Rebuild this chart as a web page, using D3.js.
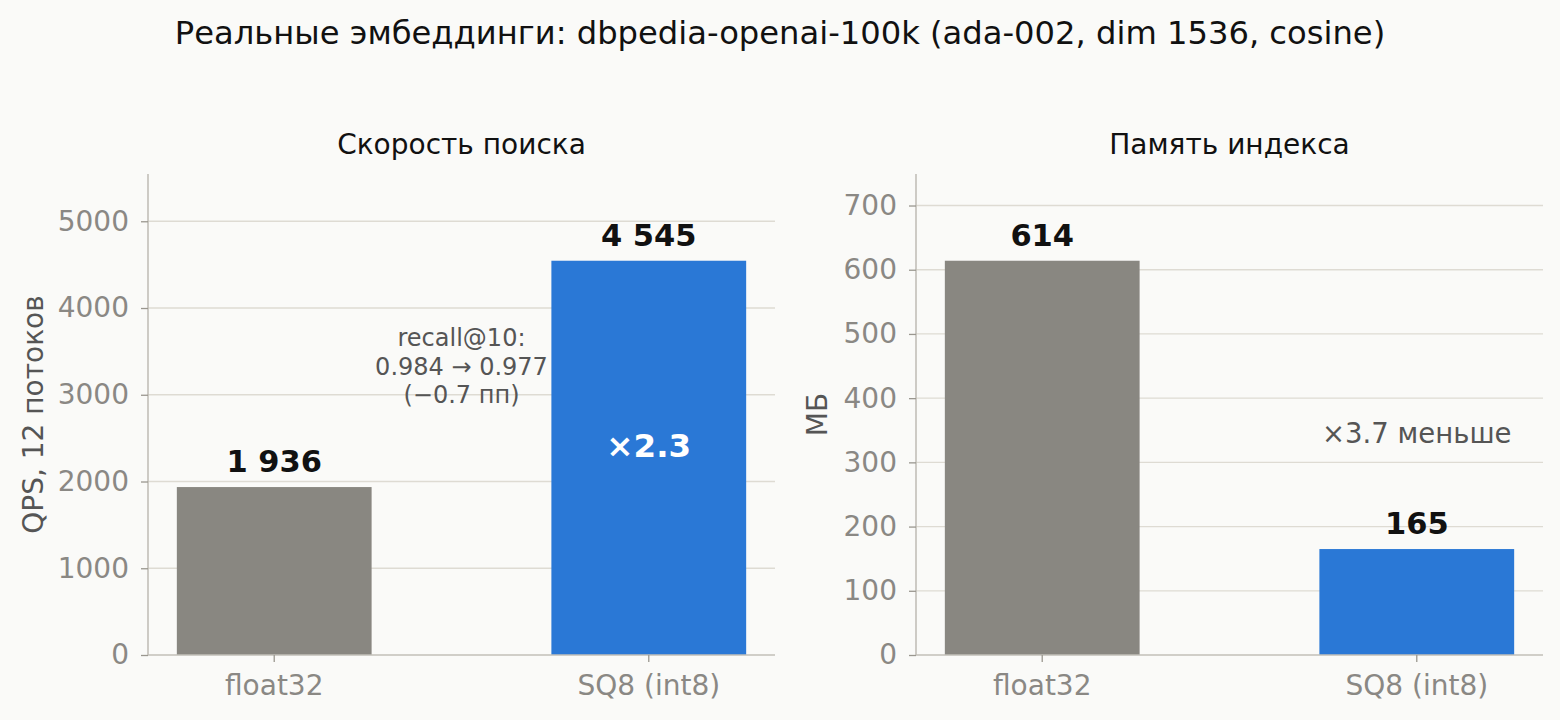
<!DOCTYPE html>
<html>
<head>
<meta charset="utf-8">
<script src="https://cdn.jsdelivr.net/npm/d3@7"></script>
<style>
  body { margin: 0; background: #fafaf8; }
  svg { display: block; font-family: "DejaVu Sans", sans-serif; }
</style>
</head>
<body>
<div id="chart"></div>
<script>
const categories = ["float32", "SQ8 (int8)"];
const qpsValues = [1936, 4545];
const memValues = [614, 165];
const qpsTicks = [0, 1000, 2000, 3000, 4000, 5000];
const memTicks = [0, 100, 200, 300, 400, 500, 600, 700];
const barColors = ["#898781", "#2a78d6"];
const recallNote = ["recall@10:", "0.984 → 0.977", "(−0.7 пп)"];

const width = 1560, height = 720;
const baseY = 655, topY = 174;

const svg = d3.select("#chart").append("svg")
    .attr("width", width)
    .attr("height", height);

svg.append("rect").attr("width", width).attr("height", height).attr("fill", "#fafaf8");

svg.append("text")
    .attr("x", 780).attr("y", 44)
    .attr("text-anchor", "middle")
    .style("font-size", "32.2px")
    .style("fill", "#111")
    .text("Реальные эмбеддинги: dbpedia-openai-100k (ada-002, dim 1536, cosine)");

const fmt = v => d3.format(",")(v).replace(/,/g, " ");

function panel(opts) {
    const x = d3.scaleBand()
        .domain(categories)
        .range([opts.left, opts.right])
        .paddingInner(0.48)
        .paddingOuter(0.077);
    const y = d3.scaleLinear()
        .domain([0, d3.max(opts.values) * 1.22])
        .range([baseY, topY]);

    const g = svg.append("g");

    // grid
    g.selectAll(".grid").data(opts.ticks.filter(t => t > 0))
        .enter().append("line")
        .attr("x1", opts.left).attr("x2", opts.right)
        .attr("y1", d => y(d)).attr("y2", d => y(d))
        .attr("stroke", "#dedbd3").attr("stroke-width", 1.3);

    // bars
    g.selectAll(".bar").data(opts.values)
        .enter().append("rect")
        .attr("x", (d, i) => x(categories[i]))
        .attr("width", x.bandwidth())
        .attr("y", d => y(d))
        .attr("height", d => baseY - y(d))
        .attr("fill", (d, i) => barColors[i]);

    // value labels
    g.selectAll(".val").data(opts.values)
        .enter().append("text")
        .attr("x", (d, i) => x(categories[i]) + x.bandwidth() / 2)
        .attr("y", d => y(d) - 15)
        .attr("text-anchor", "middle")
        .style("font-size", "30.5px")
        .style("font-weight", "bold")
        .style("fill", "#111")
        .text(d => fmt(d));

    // axes
    const yAxis = g.append("g")
        .attr("transform", `translate(${opts.left},0)`)
        .call(d3.axisLeft(y).tickValues(opts.ticks).tickSize(7).tickPadding(12).tickFormat(d3.format("d")));
    const xAxis = g.append("g")
        .attr("transform", `translate(0,${baseY})`)
        .call(d3.axisBottom(x).tickSize(7).tickPadding(8));
    [yAxis, xAxis].forEach(a => {
        a.select(".domain").attr("stroke", "#c2bfb8").attr("stroke-width", 1.6);
        a.selectAll(".tick line").attr("stroke", "#9a978f").attr("stroke-width", 1.3);
        a.selectAll(".tick text").style("font-size", "28px").style("fill", "#8a8884")
            .style("font-family", "DejaVu Sans, sans-serif");
    });
    yAxis.select(".domain").attr("d", `M0,${topY}V${baseY}`);
    xAxis.select(".domain").attr("d", `M${opts.left},0H${opts.right}`);
    xAxis.selectAll(".tick text").attr("dy", "0.9em");

    // panel title
    g.append("text")
        .attr("x", (opts.left + opts.right) / 2).attr("y", 154)
        .attr("text-anchor", "middle")
        .style("font-size", "28px")
        .style("fill", "#111")
        .text(opts.title);

    // y label
    g.append("text")
        .attr("transform", `translate(${opts.labelX},${(topY + baseY) / 2}) rotate(-90)`)
        .attr("text-anchor", "middle")
        .style("font-size", "28px")
        .style("fill", "#555")
        .text(opts.ylabel);

    return { g, x, y };
}

const left = panel({ left: 148, right: 775, values: qpsValues, ticks: qpsTicks,
    title: "Скорость поиска", ylabel: "QPS, 12 потоков", labelX: 43 });
const right = panel({ left: 916, right: 1543, values: memValues, ticks: memTicks,
    title: "Память индекса", ylabel: "МБ", labelX: 827 });

// speedup inside blue bar
left.g.append("text")
    .attr("x", left.x(categories[1]) + left.x.bandwidth() / 2)
    .attr("y", left.y(qpsValues[1] / 2) - 1)
    .attr("text-anchor", "middle")
    .style("font-size", "32.5px")
    .style("font-weight", "bold")
    .style("fill", "#fff")
    .text("×" + (qpsValues[1] / qpsValues[0]).toFixed(1));

// recall note
left.g.append("text")
    .attr("x", 461.5).attr("y", 346)
    .attr("text-anchor", "middle")
    .style("font-size", "24px")
    .style("fill", "#555")
    .selectAll("tspan").data(recallNote).enter().append("tspan")
    .attr("x", 461.5)
    .attr("dy", (d, i) => i === 0 ? 0 : 28.5)
    .text(d => d);

// memory ratio
right.g.append("text")
    .attr("x", right.x(categories[1]) + right.x.bandwidth() / 2)
    .attr("y", 443)
    .attr("text-anchor", "middle")
    .style("font-size", "27.5px")
    .style("fill", "#555")
    .text("×" + (memValues[0] / memValues[1]).toFixed(1) + " меньше");
</script>
</body>
</html>
